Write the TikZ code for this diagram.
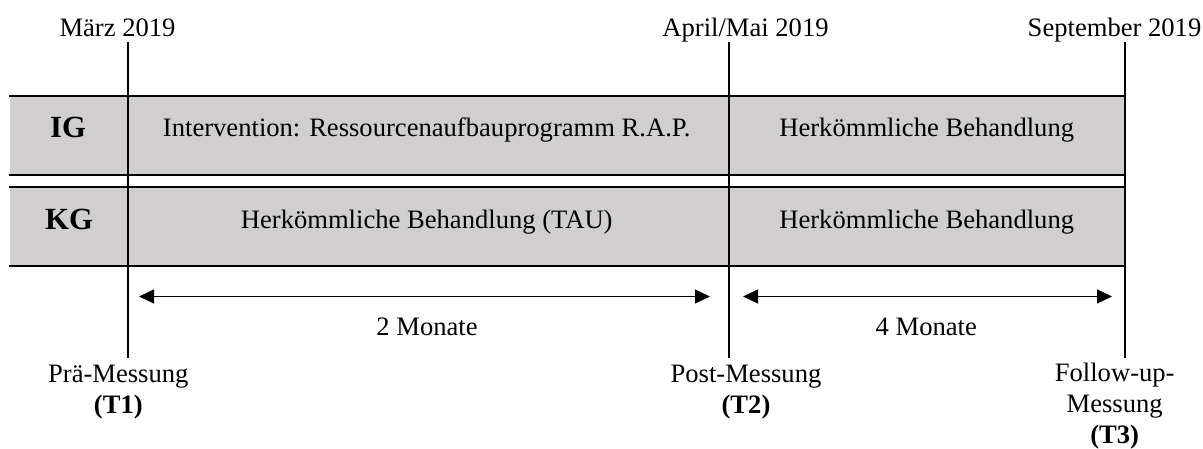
\documentclass[tikz,border=0pt]{standalone}
\usepackage{fontspec}
\setmainfont{Liberation Serif}
\usetikzlibrary{positioning,arrows.meta}
\definecolor{bargray}{RGB}{208,206,206}

\begin{document}
\begin{tikzpicture}[x=0.5pt, y=-0.5pt, line width=1pt,
        txt/.style = {font=\fontsize{13.3}{15.5}\selectfont, inner sep=0pt, anchor=base},
        grp/.style = {font=\fontsize{15.4}{18}\selectfont\bfseries, inner sep=0pt, anchor=base},
        bar/.style = {fill=bargray, draw=none, inner sep=0pt, minimum width=557.5pt, minimum height=38.2pt},
        dauer/.style = {{Triangle[length=7.5pt,width=7pt]}-{Triangle[length=7.5pt,width=7pt]}, line width=0.6pt}]
        \useasboundingbox (0,0) rectangle (1203,449);

        % Balken
        \node[bar] (ig) at (567.5,135.5) {};
        \node[bar] (kg) at (567.5,226.4) {};
        \draw (ig.north west) -- (ig.north east);
        \draw (ig.south west) -- (ig.south east);
        \draw (kg.north west) -- (kg.north east);
        \draw (kg.south west) -- (kg.south east);

        % Zeitpunkte
        \coordinate (o1) at (128,42);
        \coordinate (u1) at (128,357.7);
        \coordinate (o2) at (728.5,42);
        \coordinate (u2) at (728.5,357.7);
        \coordinate (o3) at (1125.3,42);
        \coordinate (u3) at (1125.3,357.7);
        \draw (o1) -- (u1);
        \draw (o2) -- (u2);
        \draw (o3) -- (u3);

        \node[txt] (d1) at (117.5,36.5) {März 2019};
        \node[txt] (d2) at (745.5,36.5) {April/Mai 2019};
        \node[txt] (d3) at (1114.5,36.5) {September 2019};

        % Gruppen
        \node[grp] (g1) at (68,137.3) {IG};
        \node[grp] (g2) at (69,229) {KG};
        \node[txt] (b1) at (426.7,136.7) {Intervention: Ressourcenaufbauprogramm R.A.P.};
        \node[txt] (b2) at (926.7,136.7) {Herkömmliche Behandlung};
        \node[txt] (b3) at (426.7,228.3) {Herkömmliche Behandlung (TAU)};
        \node[txt] (b4) at (926.7,228.3) {Herkömmliche Behandlung};

        % Dauer
        \coordinate (a1) at (139,296.5);
        \coordinate (a2) at (710,296.5);
        \coordinate (a3) at (743,296.5);
        \coordinate (a4) at (1112,296.5);
        \draw[dauer] (a1) -- (a2);
        \draw[dauer] (a3) -- (a4);
        \node[txt] (m1) at (427,335) {2 Monate};
        \node[txt] (m2) at (926.3,335) {4 Monate};

        % Messungen
        \node[txt] (t1) at (118.3,382.5) {Prä-Messung};
        \node[txt] (t1b) at ([yshift=-15.5pt]t1.base) {\textbf{(T1)}};
        \node[txt] (t2) at (746,382.5) {Post-Messung};
        \node[txt] (t2b) at ([yshift=-15.5pt]t2.base) {\textbf{(T2)}};
        \node[txt] (t3) at (1114.7,381.7) {Follow-up-};
        \node[txt] (t3b) at ([yshift=-15.5pt]t3.base) {Messung};
        \node[txt] (t3c) at ([yshift=-15.5pt]t3b.base) {\textbf{(T3)}};
    \end{tikzpicture}
\end{document}
